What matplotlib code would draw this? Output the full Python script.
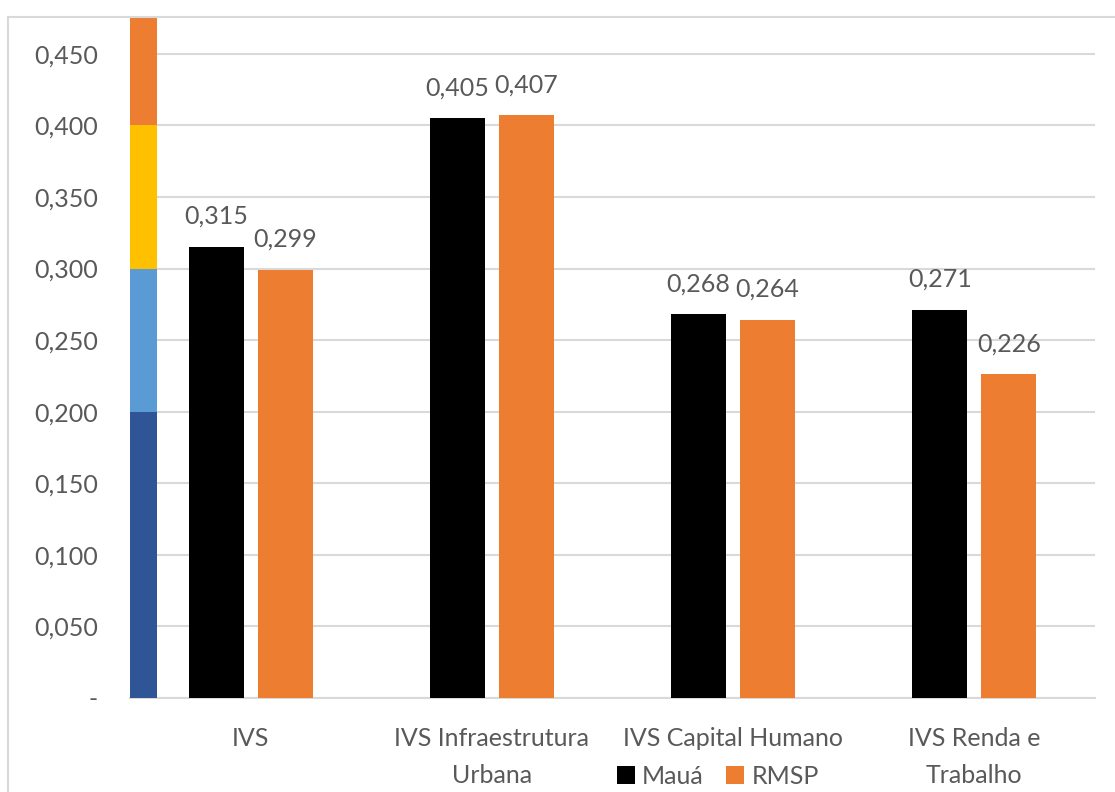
import matplotlib
matplotlib.use("Agg")
import matplotlib.pyplot as plt
from matplotlib.patches import Rectangle

plt.rcParams['font.family'] = ['Lato', 'DejaVu Sans']

categories = ["IVS", "IVS Infraestrutura\nUrbana", "IVS Capital Humano", "IVS Renda e\nTrabalho"]
maua = [0.315, 0.405, 0.268, 0.271]
rmsp = [0.299, 0.407, 0.264, 0.226]
series_names = ["Mauá", "RMSP"]

# vulnerability scale bands on the left edge
band_bounds = [0.0, 0.2, 0.3, 0.4, 0.475]
band_colors = ["#2F5597", "#5B9BD5", "#FFC000", "#ED7D31"]

yticks = [0.0, 0.05, 0.10, 0.15, 0.20, 0.25, 0.30, 0.35, 0.40, 0.45]
ytick_labels = ["-", "0,050", "0,100", "0,150", "0,200", "0,250", "0,300", "0,350", "0,400", "0,450"]

W, H = 1115, 792
fig = plt.figure(figsize=(W / 100, H / 100), dpi=100)
ax = fig.add_axes([130 / W, 94 / H, (1095 - 130) / W, (698 - 18) / H])

# chart area frame
fig.patches.append(Rectangle((8 / W, -0.1), 1.2, (H - 17) / H + 0.1, transform=fig.transFigure,
                             fill=False, edgecolor="#d9d9d9", linewidth=1.5, zorder=0))

text_color = "#595959"
grid_color = "#d9d9d9"
fs = 18
bw = 0.228
off = 0.143
x = list(range(len(categories)))

b1 = ax.bar([i - off for i in x], maua, width=bw, color="#000000", zorder=3, label=series_names[0])
b2 = ax.bar([i + off for i in x], rmsp, width=bw, color="#ED7D31", zorder=3, label=series_names[1])

for i in range(len(band_colors)):
    ax.bar(-0.5, band_bounds[i + 1] - band_bounds[i], bottom=band_bounds[i], width=0.112,
           align="edge", color=band_colors[i], zorder=4)

def fmt(v):
    return f"{v:.3f}".replace(".", ",")

for bars, vals in ((b1, maua), (b2, rmsp)):
    for r, v in zip(bars, vals):
        ax.annotate(fmt(v), (r.get_x() + r.get_width() / 2, v), xytext=(0, 22),
                    textcoords="offset points", ha="center", va="center",
                    fontsize=fs, color=text_color)

ax.set_xlim(-0.5, 3.5)
ax.set_ylim(0, 0.475)
ax.set_yticks(yticks)
ax.set_yticklabels(ytick_labels)
ax.set_xticks(x)
ax.set_xticklabels(categories, linespacing=1.75)
ax.tick_params(axis="y", length=0, pad=23, labelsize=fs, labelcolor=text_color)
ax.tick_params(axis="x", length=0, pad=21, labelsize=fs, labelcolor=text_color)
ax.yaxis.grid(True, color=grid_color, linewidth=1.5, zorder=0)
ax.set_axisbelow(True)
for s in ("top", "right", "left"):
    ax.spines[s].set_visible(False)
ax.spines["bottom"].set_color(grid_color)
ax.spines["bottom"].set_linewidth(1.5)

fig.legend(handles=[b1, b2], labels=series_names, loc="center", bbox_to_anchor=(718 / W, (H - 776) / H),
           ncol=2, frameon=False, fontsize=fs, labelcolor=text_color,
           handlelength=0.7, handleheight=0.7, handletextpad=0.3, columnspacing=0.9)

fig.savefig("out.png", dpi=100)
